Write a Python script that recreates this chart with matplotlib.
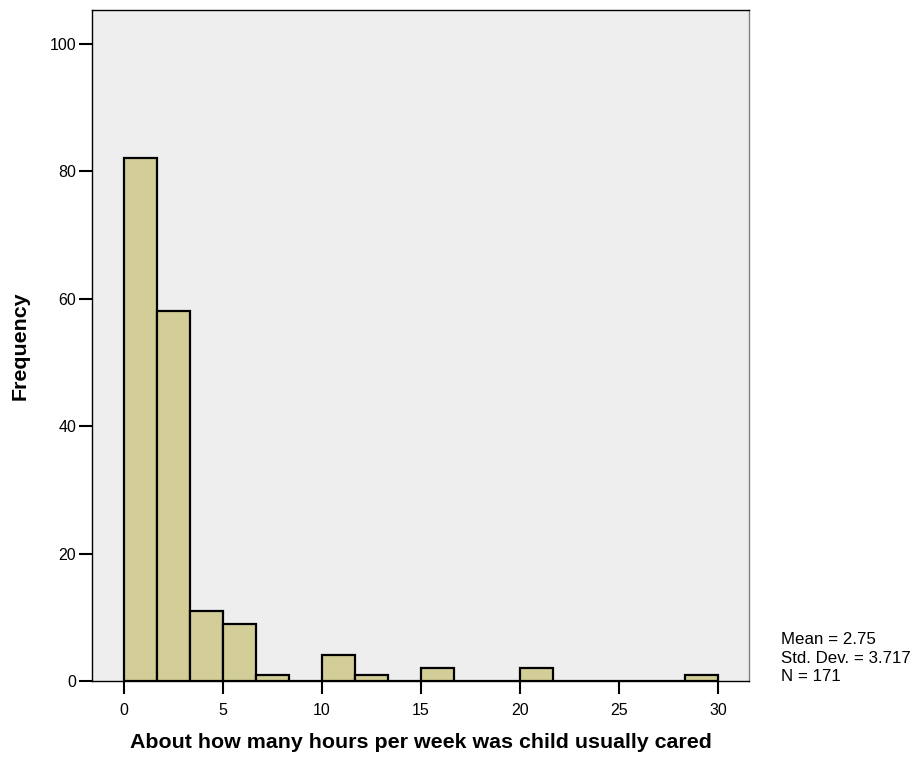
import numpy as np
import matplotlib.pyplot as plt

plt.rcParams['font.family'] = ['Liberation Sans', 'DejaVu Sans']

# histogram data (18 bins over 0..30)
bin_start = 0
bin_end = 30
n_bins = 18
counts = [82, 58, 11, 9, 1, 0, 4, 1, 0, 2, 0, 0, 2, 0, 0, 0, 0, 1]
xticks = [0, 5, 10, 15, 20, 25, 30]
yticks = [0, 20, 40, 60, 80, 100]
stats_text = "Mean = 2.75\nStd. Dev. = 3.717\nN = 171"

edges = np.linspace(bin_start, bin_end, n_bins + 1)
width = edges[1] - edges[0]

fig = plt.figure(figsize=(9.19, 7.58), dpi=100)
ax = fig.add_axes([0.1001, 0.1016, 0.7149, 0.8852])
ax.set_facecolor('#eeeeee')

ax.bar(edges[:-1], counts, width=width, align='edge',
       color='#d3ce97', edgecolor='black', linewidth=1.6, zorder=3)

ax.set_xlim(-1.62, 31.57)
ax.set_ylim(0, 105.3)
ax.set_xticks(xticks)
ax.set_yticks(yticks)
ax.tick_params(axis='both', direction='out', length=9.5, width=1.5,
               labelsize=11.5, color='black')
ax.tick_params(axis='x', pad=6)
ax.tick_params(axis='y', pad=2)

for s in ['left', 'top', 'bottom']:
    ax.spines[s].set_color('black')
    ax.spines[s].set_linewidth(1.0)
ax.spines['right'].set_color('#808080')
ax.spines['right'].set_linewidth(1.0)

ax.set_xlabel('About how many hours per week was child usually cared',
              fontsize=15.4, fontweight='bold', labelpad=11)
ax.set_ylabel('Frequency', fontsize=15.4, fontweight='bold', labelpad=14)

fig.text(781 / 919, 1 - 632 / 758, stats_text, fontsize=12.2, va='top',
         ha='left', linespacing=1.3)

fig.savefig('out.png', dpi=100)
